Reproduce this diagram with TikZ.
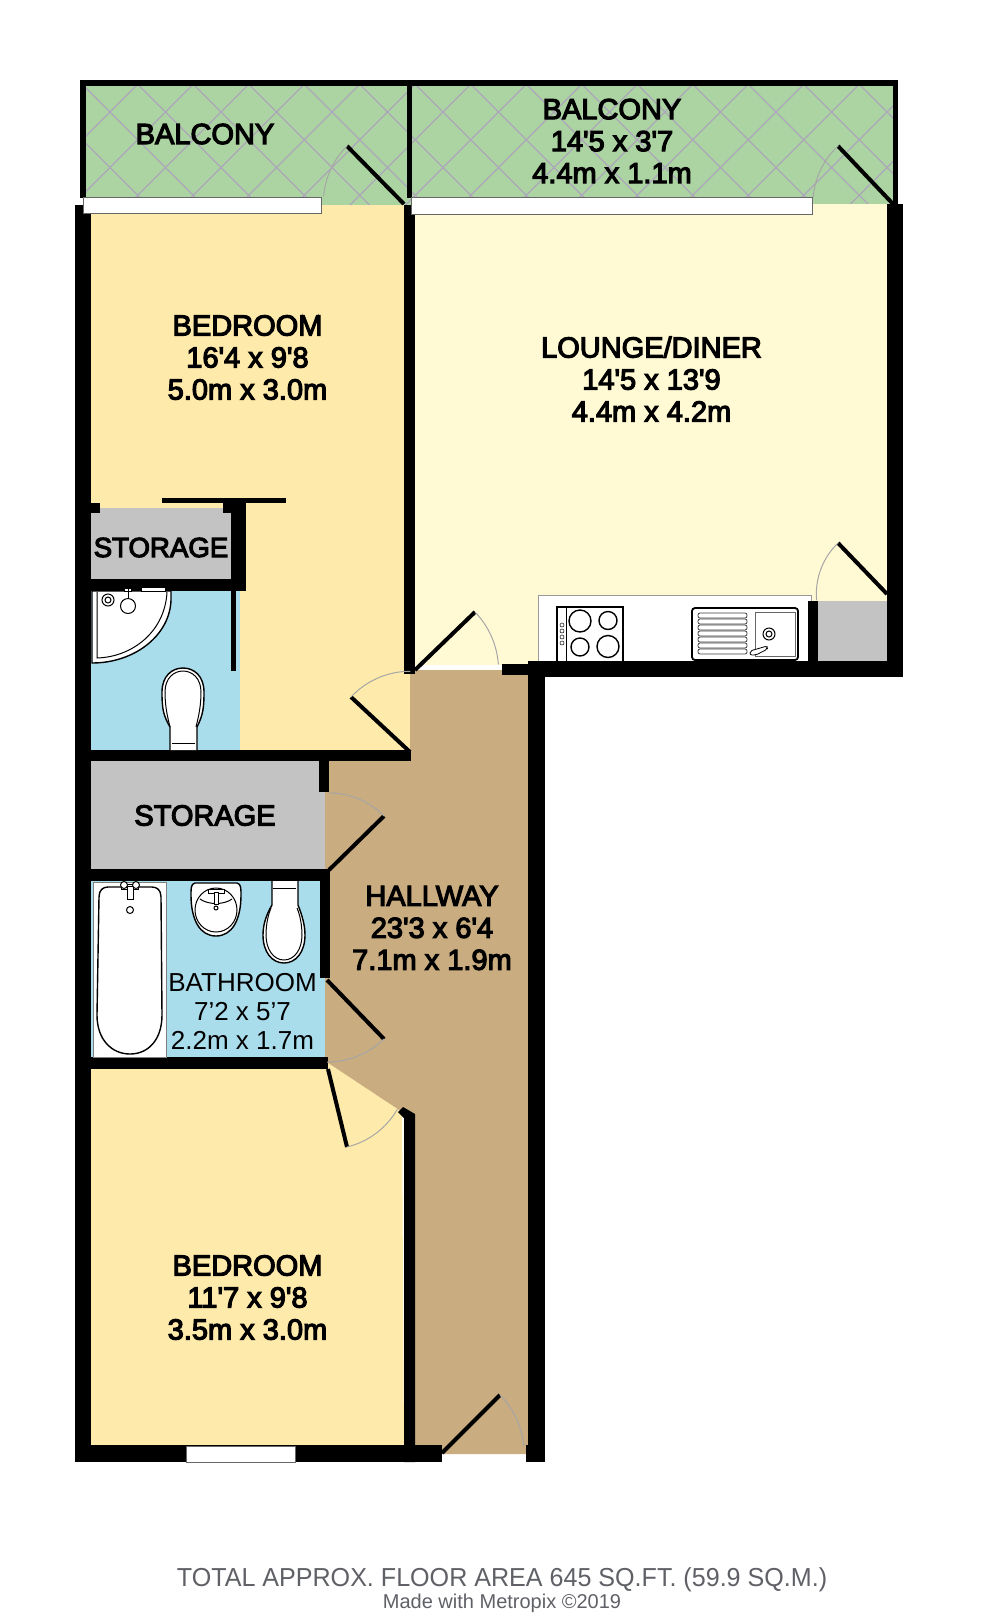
\documentclass[tikz,border=0pt]{standalone}
\usepackage{fontspec}
\setmainfont{Liberation Sans}
\newfontfamily\labelfont[FakeBold=4]{Liberation Sans}
\definecolor{balc}{RGB}{172,212,162}
\definecolor{hatch}{RGB}{172,166,186}
\definecolor{bedcol}{RGB}{254,234,170}
\definecolor{loungecol}{RGB}{255,250,212}
\definecolor{hallcol}{RGB}{201,172,128}
\definecolor{bluecol}{RGB}{170,221,235}
\definecolor{greycol}{RGB}{195,195,195}
\definecolor{foot}{RGB}{95,97,102}
\tikzset{
  wallfill/.style={fill=black,draw=none},
  leaf/.style={line width=2pt,black},
  swing/.style={line width=0.5pt,color=black!35!white},
  glazing/.style={fill=white,draw=black!60,line width=0.4pt},
  fixture/.style={fill=white,draw=black,line width=0.7pt},
  fine/.style={draw=black,line width=0.5pt},
  room/.style={font=\labelfont\fontsize{14.5}{16}\selectfont,align=center,inner sep=0pt,text=black},
  roomthin/.style={font=\fontsize{13}{14.5}\selectfont,align=center,inner sep=0pt,text=black},
}
\begin{document}
\begin{tikzpicture}[x=0.5pt,y=-0.5pt]
\useasboundingbox (0,0) rectangle (1000,1617);
\fill[white] (0,0) rectangle (1000,1617);
% balconies
\fill[balc] (86,86) rectangle (893,206);
\begin{scope}
\clip (86,86) rectangle (893,206);
\foreach \k in {-3,...,15}{
  \draw[hatch,line width=0.65pt] ({0},{-(-2+55.5*\k)}) -- ({1000},{1000-(-2+55.5*\k)});
}
\foreach \k in {-1,...,16}{
  \draw[hatch,line width=0.65pt] ({0},{222+55.5*\k}) -- ({1000},{222+55.5*\k-1000});
}
\end{scope}
% floors
\fill[bedcol] (91,205) rectangle (404,750);
\fill[bedcol] (404,672) rectangle (410,750);
\fill[loungecol] (415,204) rectangle (889,665);
\fill[hallcol] (410,670) -- (528,670) -- (528,1454) -- (410,1454) -- (410,1112) -- (402,1112) -- (325,1063) -- (325,761) -- (410,761) -- cycle;
\fill[greycol] (91,508) rectangle (231,579);
\fill[bluecol] (91,591) rectangle (240,750);
\fill[greycol] (91,761) rectangle (325,869);
\fill[bluecol] (91,881) rectangle (325,1057);
\fill[bedcol] (91,1069) -- (328,1069) -- (328,1063) -- (402,1112) -- (404,1445) -- (91,1445) -- cycle;
\fill[greycol] (818,601) rectangle (887,661);
% counter
\draw[fill=white,draw=black!40,line width=0.5pt] (538,661) -- (538,595) -- (811,595) -- (811,661);
% walls
\fill[wallfill] (80,80) rectangle (898,86);
\fill[wallfill] (80,80) rectangle (86,198);
\fill[wallfill] (407,80) rectangle (412,198);
\fill[wallfill] (893,80) rectangle (898,205);
\fill[wallfill] (75,205) rectangle (91,1462);
\fill[wallfill] (404,205) rectangle (415,674);
\fill[wallfill] (887,204) rectangle (903,677);
\fill[wallfill] (528,661) rectangle (903,677);
\fill[wallfill] (502,664) rectangle (530,675);
\fill[wallfill] (528,661) rectangle (545,1462);
\fill[wallfill] (808,601) rectangle (818,661);
\fill[wallfill] (91,503) rectangle (100,513);
\fill[wallfill] (162,498) rectangle (286,503);
\fill[wallfill] (223,501) rectangle (246,513);
\fill[wallfill] (231,501) rectangle (246,587);
\fill[wallfill] (91,579) rectangle (246,591);
\fill[wallfill] (231,587) rectangle (236,671);
\fill[wallfill] (91,750) rectangle (411,761);
\fill[wallfill] (319,761) rectangle (329,792);
\fill[wallfill] (75,869) rectangle (329,881);
\fill[wallfill] (320,869) rectangle (330,978);
\fill[wallfill] (75,1057) rectangle (328,1069);
\fill[wallfill] (398,1112) -- (403,1107) -- (415,1114) -- (415,1462) -- (404,1462) -- (404,1118) -- cycle;
\fill[wallfill] (75,1445) rectangle (442,1462);
\fill[wallfill] (526,1445) rectangle (545,1462);
% windows
\draw[glazing] (83,197) rectangle (321,213);
\draw[glazing] (411,197) rectangle (812,214);
\draw[glazing] (186,1446) rectangle (295,1462);
% doors
\coordinate (d1h) at (404,204); \coordinate (d1l) at (347,146);
\coordinate (d2h) at (893,204); \coordinate (d2l) at (838,146);
\coordinate (d3h) at (410,752); \coordinate (d3l) at (351,697);
\coordinate (d4h) at (415,670); \coordinate (d4l) at (475,612);
\coordinate (d5h) at (887,594); \coordinate (d5l) at (838,543);
\coordinate (d6h) at (329,870); \coordinate (d6l) at (384,816);
\coordinate (d7h) at (327,980); \coordinate (d7l) at (384,1039);
\coordinate (d8h) at (328,1069); \coordinate (d8l) at (347,1147);
\coordinate (d9h) at (442,1453); \coordinate (d9l) at (500,1395);
\draw[leaf] (d1h) -- (d1l); \draw[swing] (d1l) arc[start angle=225,end angle=185,radius=81];
\draw[leaf] (d2h) -- (d2l); \draw[swing] (d2l) arc[start angle=227,end angle=185,radius=79];
\draw[leaf] (d3h) -- (d3l); \draw[swing] (d3l) arc[start angle=223,end angle=270,radius=81];
\draw[leaf] (d4h) -- (d4l); \draw[swing] (d4l) arc[start angle=316,end angle=356,radius=84];
\draw[leaf] (d5h) -- (d5l); \draw[swing] (d5l) arc[start angle=226,end angle=175,radius=71];
\draw[leaf] (d6h) -- (d6l); \draw[swing] (d6l) arc[start angle=315.5,end angle=270,radius=77];
\draw[leaf] (d7h) -- (d7l); \draw[swing] (d7l) arc[start angle=46,end angle=90,radius=82];
\draw[leaf] (d8h) -- (d8l); \draw[swing] (d8l) arc[start angle=76.3,end angle=30,radius=80];
\draw[leaf] (d9h) -- (d9l); \draw[swing] (d9l) arc[start angle=315,end angle=355,radius=82];
% hob
\draw[fixture] (557,661) -- (557,607) -- (623,607) -- (623,661);
\draw[fine] (566,607) -- (566,661);
\draw[fine,line width=0.7pt] (580,621) circle[radius=11] (608,620.5) circle[radius=9] (580,647) circle[radius=9] (608,646.5) circle[radius=11];
\foreach \yy in {625,631,637,643}{\draw[fine,line width=0.25pt] (562,\yy) circle[radius=2];}
% kitchen sink
\draw[fixture,rounded corners=1.5pt,line width=0.9pt] (692,608) rectangle (798,660);
\foreach \yy in {613,619,625,631,637,643,649}{
  \draw[fill=white,draw=black!75,line width=0.4pt,rounded corners=1pt] (698,\yy) rectangle (747,\yy+5);
}
\draw[draw=black!60,line width=0.4pt] (755,612) rectangle (795,656);
\draw[fine] (769,634) circle[radius=6] (769,634) circle[radius=3];
\draw[fill=white,draw=black,line width=0.4pt,rounded corners=1pt] (750,651) -- (767,646) -- (767.5,649) -- (756,655) -- (750,655) -- cycle;
% en-suite basin
\draw[fixture] (92,591) -- (171,591) -- (171,600) .. controls (170,635) and (135,663) .. (92,663) -- cycle;
\draw[fine] (97,592) -- (97,658) .. controls (132,657) and (165,632) .. (167,592);
\draw[fine,fill=white] (128,602) -- (128,589) (124,588) rectangle (131,591);
\draw[fine,fill=white] (128,606) circle[radius=7.5];
\draw[fine] (108,600) circle[radius=6] (108,600) circle[radius=3];
\draw[fine,fill=white] (141,587) rectangle (165,591);
% en-suite wc
\draw[fixture,line width=0.7pt] (170,750) -- (170,727) .. controls (163,715) and (162,708) .. (162,692) .. controls (162,676) and (172,668) .. (183,668) .. controls (194,668) and (204,676) .. (204,692) .. controls (204,708) and (203,715) .. (197,727) -- (197,750);
\draw[fine] (165,692) .. controls (165,678) and (174,671) .. (183,671) .. controls (192,671) and (201,678) .. (201,692) .. controls (201,705) and (199,715) .. (196,727);
\draw[fine] (165,692) .. controls (165,705) and (167,715) .. (170,727);
\draw[fine] (172,743) -- (195,743);
% bath
\draw[fill=white,draw=black!50,line width=0.4pt] (93,882) rectangle (166,1057);
\draw[fine,line width=0.7pt] (99,897) .. controls (99,890) and (103,887) .. (108,887) -- (152,887) .. controls (157,887) and (161,890) .. (161,897) -- (162,1015) .. controls (162,1040) and (148,1054) .. (130,1054) .. controls (112,1054) and (97,1040) .. (97,1015) -- cycle;
\draw[fine,fill=white] (121,884) rectangle (138,889);
\draw[fine,fill=white] (127,886) -- (127,899) -- (133,899) -- (133,886) -- cycle;
\draw[fine,fill=white] (130,910) circle[radius=3.5];
\draw[fine,fill=white] (124,885) circle[radius=3.5] (136,885) circle[radius=3.5];
% bathroom basin
\draw[fixture] (195,883) -- (237,883) .. controls (241,884) and (241,888) .. (241,895) .. controls (241,920) and (232,936) .. (216,936) .. controls (200,936) and (191,920) .. (191,895) .. controls (191,888) and (191,884) .. (195,883) -- cycle;
\draw[fine] (216,910) ellipse[x radius=21,y radius=22];
\draw[fine] (200,899) .. controls (208,905) and (224,905) .. (232,899);
\draw[fine,fill=white] (208,889) rectangle (224,893);
\draw[fine,fill=white] (214,892) -- (214,904) -- (218,904) -- (218,892) -- cycle;
\draw[fine,fill=white] (216,908) circle[radius=2];
% bathroom wc
\draw[fixture] (272,881) -- (272,905) .. controls (266,915) and (263,925) .. (263,935) .. controls (263,952) and (272,963) .. (284,963) .. controls (296,963) and (305,952) .. (305,935) .. controls (305,925) and (302,915) .. (298,905) -- (298,881);
\draw[fine] (266,935) .. controls (266,950) and (274,960) .. (284,960) .. controls (294,960) and (302,950) .. (302,935) .. controls (302,925) and (300,915) .. (297,908);
\draw[fine] (266,935) .. controls (266,925) and (268,915) .. (271,908);
\draw[fine] (273,888) -- (296,888);
% labels
\node[room] (balcA) at (205,134) {BALCONY};
\node[room] (balcB) at (612,141) {BALCONY\\14'5 x 3'7\\4.4m x 1.1m};
\node[room] (bedA) at (247.5,357.5) {BEDROOM\\16'4 x 9'8\\5.0m x 3.0m};
\node[room] (lounge) at (651.5,379) {LOUNGE/DINER\\14'5 x 13'9\\4.4m x 4.2m};
\node[room,font=\labelfont\fontsize{13.8}{15}\selectfont] (storA) at (161,547.5) {STORAGE};
\node[room] (storB) at (205,815.5) {STORAGE};
\node[room] (hall) at (432,928) {HALLWAY\\23'3 x 6'4\\7.1m x 1.9m};
\node[roomthin] (bath) at (242.5,1011) {BATHROOM\\7'2 x 5'7\\2.2m x 1.7m};
\node[room] (bedB) at (247.5,1297.5) {BEDROOM\\11'7 x 9'8\\3.5m x 3.0m};
\node[inner sep=0pt,text=foot,font=\fontsize{13}{15}\selectfont] (total) at (502,1580) {\scalebox{0.965}[1]{TOTAL APPROX. FLOOR AREA 645 SQ.FT. (59.9 SQ.M.)}};
\node[inner sep=0pt,text=foot,font=\fontsize{10}{12}\selectfont] (made) at (502,1603) {Made with Metropix ©2019};
\end{tikzpicture}
\end{document}
